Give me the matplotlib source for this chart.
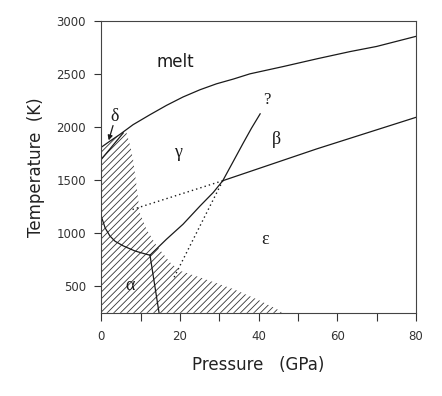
import numpy as np
import matplotlib
matplotlib.use('Agg')
import matplotlib.pyplot as plt

# Phase boundaries of iron (P in GPa, T in K)
melt_p = [0, 2.3, 4.7, 8.1, 12.4, 16.6, 20.8, 25.1, 29.3, 33.6, 37.8, 46.3, 55, 63.3, 70, 80]
melt_t = [1810, 1870, 1930, 2023, 2117, 2205, 2284, 2352, 2408, 2453, 2502, 2571, 2645, 2712, 2760, 2855]

delta_p = [0, 5.6]
delta_t = [1695, 1945]

alpha_gamma_p = [0, 1, 2.2, 3.5, 5.6, 8.5, 10.5, 12.4]
alpha_gamma_t = [1160, 1050, 975, 925, 881, 834, 812, 793]

alpha_eps_p = [12.4, 14.7]
alpha_eps_t = [793, 250]

gamma_eps_p = [12.4, 16.6, 20.8, 25.1, 28.5, 30.9, 33.6, 36.1, 38.2, 40.4]
gamma_eps_t = [793, 944, 1085, 1256, 1385, 1495, 1679, 1850, 1990, 2125]

beta_p = [30.9, 54.8, 80]
beta_t = [1495, 1795, 2092]

dot1_p = [30.9, 7.7]
dot1_t = [1495, 1221]
dot2_p = [30.9, 18.3]
dot2_t = [1495, 568]

# hatched region (upper-right edge then back along the axes)
hatch_p = [0, 0, 4.7, 6.4, 7.4, 8.1, 9.0, 9.8, 11.5, 14.1, 17.5, 20, 25.1, 33.6, 40.4, 45.4, 46]
hatch_t = [250, 1810, 1930, 1950, 1820, 1695, 1444, 1194, 1038, 881, 725, 646, 584, 474, 364, 270, 250]

# region labels
labels = ['melt', 'δ', 'γ', 'β', '?', 'ε', 'α']
label_p = [18.8, 3.5, 19.6, 44.6, 42.0, 41.6, 7.3]
label_t = [2618, 2100, 1758, 1883, 2258, 944, 505]

plt.rcParams['hatch.linewidth'] = 0.6
fig = plt.figure(figsize=(4.42, 3.96), dpi=100)
ax = fig.add_axes([0.229, 0.21, 0.712, 0.737])

ink = '#1a1a1a'
ax.fill(hatch_p, hatch_t, facecolor='none', edgecolor='#333333', hatch='/////', linewidth=0)

ax.plot(melt_p, melt_t, color=ink, lw=0.9)
ax.plot(delta_p, delta_t, color=ink, lw=0.9)
ax.plot(alpha_gamma_p, alpha_gamma_t, color=ink, lw=0.9)
ax.plot(alpha_eps_p, alpha_eps_t, color=ink, lw=0.9)
ax.plot(gamma_eps_p, gamma_eps_t, color=ink, lw=0.9)
ax.plot(beta_p, beta_t, color=ink, lw=0.9)
ax.plot(dot1_p, dot1_t, color=ink, lw=1.0, linestyle=(0, (1, 2.2)))
ax.plot(dot2_p, dot2_t, color=ink, lw=1.0, linestyle=(0, (1, 2.2)))

# arrow from the delta label to the delta field
ax.annotate('', xy=(1.7, 1850), xytext=(3.2, 2040),
            arrowprops=dict(arrowstyle='-|>', color=ink, lw=0.9, mutation_scale=7))

for txt, p, t in zip(labels, label_p, label_t):
    if txt in ('melt', '?'):
        ax.text(p, t, txt, ha='center', va='center', fontsize=12, color=ink,
                family='DejaVu Sans' if txt == 'melt' else 'Liberation Serif')
    else:
        ax.text(p, t, txt, ha='center', va='center', fontsize=13, color=ink,
                family='Liberation Serif')

ax.set_xlim(0, 80)
ax.set_ylim(250, 3000)
ax.set_xticks(np.arange(0, 81, 10))
ax.set_xticklabels(['0', '', '20', '', '40', '', '60', '', '80'])
ax.set_yticks([500, 1000, 1500, 2000, 2500, 3000])
ax.tick_params(axis='x', direction='out', length=6, width=0.8, pad=6, labelsize=8.5, colors='#333333')
ax.tick_params(axis='y', direction='out', length=5, width=0.8, pad=6, labelsize=8.5, colors='#333333')
for s in ax.spines.values():
    s.set_linewidth(0.8)
    s.set_color('#444444')

ax.set_xlabel('Pressure   (GPa)', fontsize=12, color='#222222', labelpad=10)
ax.set_ylabel('Temperature  (K)', fontsize=12, color='#222222', labelpad=8)

fig.savefig('out.png', dpi=100)
